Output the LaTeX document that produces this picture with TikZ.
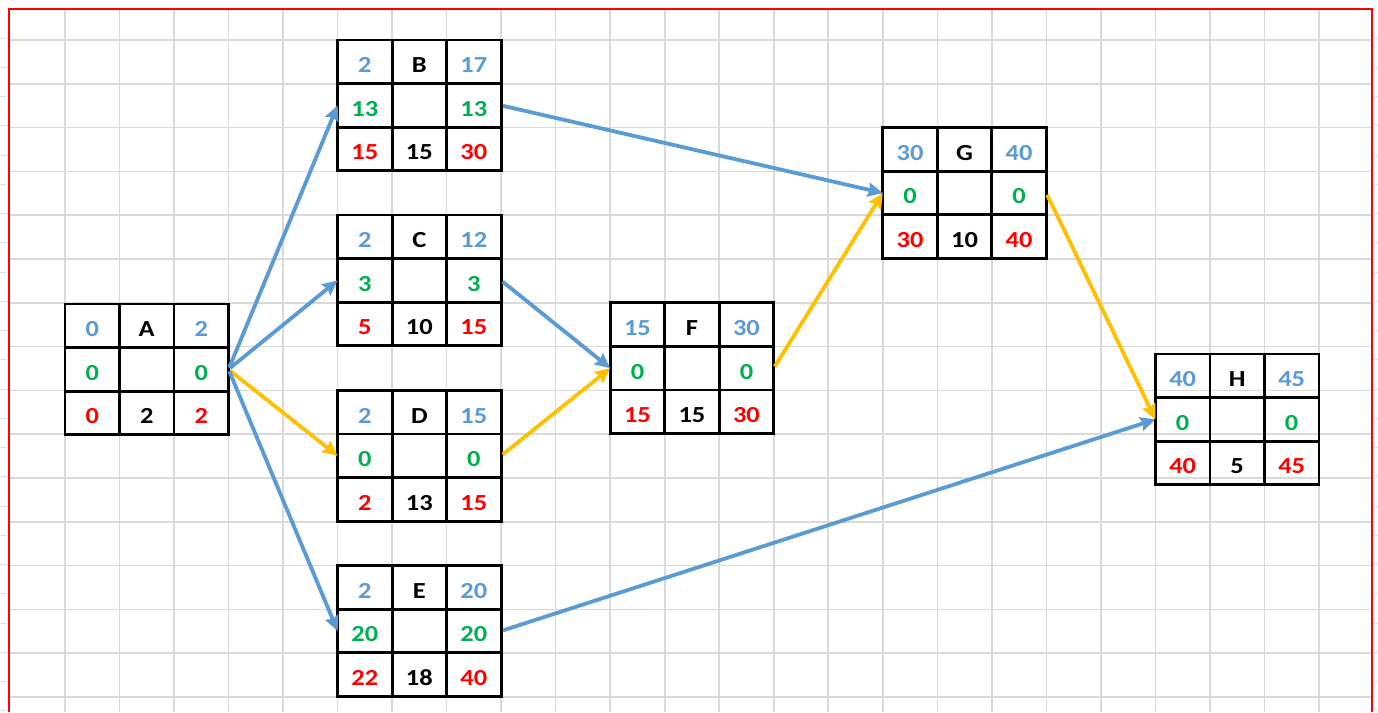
\documentclass[tikz,border=0pt]{standalone}
\usepackage{fontspec}
\setmainfont{Carlito}[FakeStretch=1.15]
\usetikzlibrary{arrows.meta}
\definecolor{tblue}{HTML}{5B9BD5}
\definecolor{tgreen}{HTML}{00B050}
\definecolor{tred}{HTML}{FF0000}
\definecolor{ayellow}{HTML}{FFC000}
\definecolor{gridc}{HTML}{DADADA}
\definecolor{tickc}{HTML}{CFE4F5}
\tikzset{
  gridl/.style={draw=gridc, line width=1.6pt},
  tablebox/.style={draw=black, line width=2.8pt, rectangle, minimum width=163.5pt, minimum height=130.8pt, inner sep=0pt, outer sep=0pt},
  tline/.style={draw=black, line width=2.8pt},
  celltxt/.style={anchor=base, inner sep=0pt, font=\fontsize{23}{27}\selectfont\bfseries},
  arr/.style={line width=3.8pt, -{Stealth[length=15pt,width=14pt,inset=2pt]}, shorten <=2pt},
  barr/.style={arr, draw=tblue},
  yarr/.style={arr, draw=ayellow},
}
\newcommand\pbcw{54.5}
\newcommand\pbrh{43.6}
% #1 name, #2 x, #3 y, #4 tl, #5 letter, #6 tr, #7 ml, #8 mr, #9 bl ; then {dur}{br}
\newcommand\pertbox[9]{%
  \def\pbname{#1}\def\pbx{#2}\def\pby{#3}%
  \def\pbtl{#4}\def\pblet{#5}\def\pbtr{#6}\def\pbml{#7}\def\pbmr{#8}\def\pbbl{#9}%
  \pbfinish}
\newcommand\pbfinish[2]{%
  \node[tablebox] (\pbname) at ({\pbx+81.75},{\pby+65.4}) {};
  \draw[tline] ({\pbx+\pbcw},\pby) -- ({\pbx+\pbcw},{\pby+130.8});
  \draw[tline] ({\pbx+2*\pbcw},\pby) -- ({\pbx+2*\pbcw},{\pby+130.8});
  \draw[tline] (\pbx,{\pby+\pbrh}) -- ({\pbx+163.5},{\pby+\pbrh});
  \draw[tline] (\pbx,{\pby+2*\pbrh}) -- ({\pbx+163.5},{\pby+2*\pbrh});
  \node[celltxt, text=tblue] (\pbname-tl) at ({\pbx+27.25},{\pby+\pbrh-11}) {\pbtl};
  \node[celltxt, text=black] (\pbname-let) at ({\pbx+81.75},{\pby+\pbrh-11}) {\pblet};
  \node[celltxt, text=tblue] (\pbname-tr) at ({\pbx+136.25},{\pby+\pbrh-11}) {\pbtr};
  \node[celltxt, text=tgreen] (\pbname-ml) at ({\pbx+27.25},{\pby+2*\pbrh-11}) {\pbml};
  \node[celltxt, text=tgreen] (\pbname-mr) at ({\pbx+136.25},{\pby+2*\pbrh-11}) {\pbmr};
  \node[celltxt, text=tred] (\pbname-bl) at ({\pbx+27.25},{\pby+3*\pbrh-11}) {\pbbl};
  \node[celltxt, text=black] (\pbname-dur) at ({\pbx+81.75},{\pby+3*\pbrh-11}) {#1};
  \node[celltxt, text=tred] (\pbname-br) at ({\pbx+136.25},{\pby+3*\pbrh-11}) {#2};
}
\begin{document}
\begin{tikzpicture}[x=1pt,y=-1pt]
\useasboundingbox (0,0) rectangle (1378,712);
\fill[white] (0,0) rectangle (1378,712);
% spreadsheet grid
\foreach \i in {0,...,23} \draw[gridl] ({65+54.52*\i},9) -- ({65+54.52*\i},712);
\foreach \j in {0,...,15} \draw[gridl] (9,{40+43.8*\j}) -- (1372,{40+43.8*\j});
% faint header ticks outside the frame
\foreach \k in {0,...,23} {
  \draw[draw=tickc, line width=1pt] (0,{38+29.25*\k}) -- (7,{38+29.25*\k});
  \draw[draw=tickc, line width=1pt] (1374,{38+29.25*\k}) -- (1378,{38+29.25*\k});
}
% red frame
\draw[draw=tred, line width=2.2pt] (9,712) -- (9,9) -- (1372,9) -- (1372,712);
% activity boxes
\pertbox{A}{65}{304}{0}{A}{2}{0}{0}{0}{2}{2}
\pertbox{B}{337.6}{40}{2}{B}{17}{13}{13}{15}{15}{30}
\pertbox{C}{337.6}{215}{2}{C}{12}{3}{3}{5}{10}{15}
\pertbox{D}{337.6}{390.4}{2}{D}{15}{0}{0}{2}{13}{15}
\pertbox{E}{337.6}{565.6}{2}{E}{20}{20}{20}{22}{18}{40}
\pertbox{F}{610.2}{302.8}{15}{F}{30}{0}{0}{15}{15}{30}
\pertbox{G}{882.8}{127.6}{30}{G}{40}{0}{0}{30}{10}{40}
\pertbox{H}{1155.4}{354}{40}{H}{45}{0}{0}{40}{5}{45}
% connectors
\draw[barr] (A.east) -- (B.west);
\draw[barr] (A.east) -- (C.west);
\draw[yarr] (A.east) -- (D.west);
\draw[barr] (A.east) -- (E.west);
\draw[barr] (B.east) -- (G.west);
\draw[barr] (C.east) -- (F.west);
\draw[yarr] (D.east) -- (F.west);
\draw[yarr] (F.east) -- (G.west);
\draw[yarr] (G.east) -- (H.west);
\draw[barr] (E.east) -- (H.west);
\end{tikzpicture}
\end{document}
